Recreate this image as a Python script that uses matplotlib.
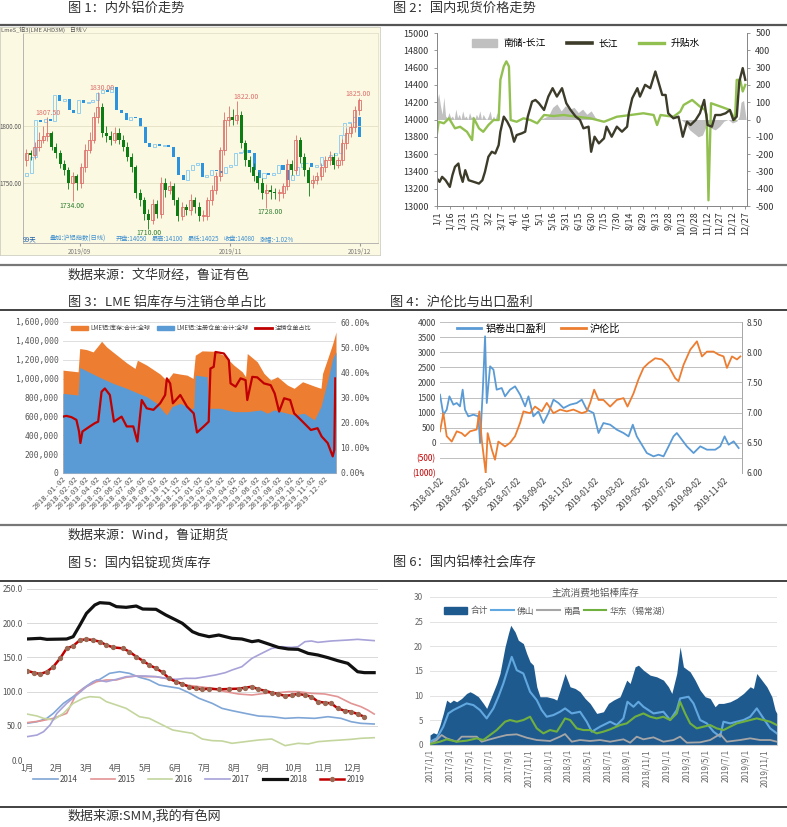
import matplotlib
matplotlib.use("Agg")
import matplotlib.pyplot as plt
from matplotlib.lines import Line2D
from matplotlib.patches import Patch
import numpy as np

plt.rcParams['font.family'] = ['Noto Sans CJK SC', 'DejaVu Sans']
plt.rcParams['axes.unicode_minus'] = False

W, H = 787, 827

# ---- 图1: LME 3M daily candles + SHFE index overlay (last ~80 sessions of 2019)
lme_open0 = 1770
lme_close = [1776, 1775, 1782, 1788, 1791, 1794, 1782, 1776, 1767, 1761,
             1750, 1756, 1750, 1764, 1779, 1788, 1808, 1817, 1794, 1791,
             1788, 1794, 1788, 1782, 1773, 1764, 1741, 1735, 1723, 1718,
             1732, 1723, 1750, 1744, 1747, 1735, 1721, 1729, 1726, 1735,
             1729, 1721, 1721, 1735, 1744, 1756, 1779, 1805, 1808, 1805,
             1810, 1785, 1770, 1764, 1756, 1750, 1741, 1744, 1742, 1741,
             1741, 1747, 1767, 1761, 1788, 1773, 1761, 1750, 1753, 1756,
             1764, 1770, 1773, 1766, 1770, 1785, 1794, 1799, 1814, 1823]
lme_high = [1780, 1779, 1786, 1795, 1800, 1807.5, 1796, 1785, 1779, 1770,
            1764, 1760, 1758, 1768, 1784, 1795, 1812, 1830, 1820, 1800,
            1796, 1799, 1798, 1792, 1786, 1776, 1766, 1745, 1738, 1727,
            1736, 1735, 1755, 1754, 1752, 1750, 1738, 1733, 1732, 1740,
            1738, 1733, 1726, 1738, 1748, 1760, 1782, 1812, 1818, 1815,
            1822, 1813, 1788, 1774, 1768, 1760, 1754, 1749, 1748, 1746,
            1745, 1750, 1771, 1770, 1792, 1790, 1776, 1764, 1757, 1760,
            1768, 1774, 1778, 1776, 1773, 1789, 1798, 1803, 1818, 1825]
lme_low = [1765, 1770, 1771, 1778, 1785, 1787, 1779, 1772, 1763, 1757,
           1745, 1734, 1744, 1746, 1760, 1776, 1785, 1803, 1790, 1786,
           1783, 1785, 1784, 1778, 1769, 1760, 1737, 1730, 1718, 1710,
           1714, 1719, 1719, 1738, 1740, 1731, 1717, 1718, 1722, 1722,
           1724, 1717, 1717, 1718, 1731, 1740, 1752, 1775, 1800, 1801,
           1802, 1781, 1765, 1760, 1752, 1745, 1736, 1728, 1736, 1736,
           1734, 1737, 1744, 1757, 1758, 1768, 1756, 1739, 1746, 1749,
           1753, 1760, 1766, 1762, 1763, 1766, 1780, 1790, 1795, 1810]
shfe_open0 = 13790
shfe_close = [13810, 13933, 14203, 14190, 14212, 14198, 14387, 14345, 14360, 14277,
              14252, 14351, 14326, 14338, 14351, 14400, 14424, 14412, 14449, 14277,
              14252, 14203, 14228, 14215, 14154, 14031, 14007, 14025, 14012, 14020,
              14007, 13933, 13798, 13761, 13835, 13872, 13884, 13786, 13798, 13835,
              13828, 13810, 13859, 13872, 13958, 13970, 13982, 13958, 13835, 13773,
              13810, 13798, 13815, 13872, 13835, 13761, 13798, 13859, 13884, 13890,
              13859, 13872, 13933, 13928, 13945, 13958, 14093, 14179, 14191, 14228,
              14080]
f1_month_pos = [12.7, 48.4, 79.2]
f1_month_lbl = ['2019/09', '2019/11', '2019/12']
f1_marks = [(5.1, 1811.4, '1807.50', 'up'), (18.0, 1833.3, '1830.00', 'up'),
            (52.2, 1825.4, '1822.00', 'up'), (78.8, 1828.0, '1825.00', 'up'),
            (10.8, 1729.8, '1734.00', 'dn'), (57.9, 1724.6, '1728.00', 'dn'),
            (29.0, 1706.5, '1710.00', 'dn')]

# ---- 图2: 长江现货 (left), 升贴水 and 南储-长江 (right); x = day of 2019
cj_day = [0, 3, 6, 10, 15, 18, 21, 25, 27, 30, 33, 37, 43, 49, 53, 56, 60, 64, 68, 72,
          74, 78, 82, 86, 90, 93, 99, 103, 106, 111, 115, 119, 125, 130, 135, 140, 146, 151, 156, 162,
          167, 171, 177, 180, 184, 189, 195, 198, 204, 210, 216, 222, 224, 228, 234, 237, 243, 249, 255, 259,
          263, 267, 270, 276, 282, 287, 292, 296, 302, 307, 312, 316, 321, 325, 331, 337, 342, 346, 350, 353,
          357, 360]
cj_val = [13317, 13279, 13337, 13298, 13221, 13356, 13453, 13491, 13375, 13279,
          13414, 13298, 13279, 13259, 13298, 13395, 13569, 13627, 13607, 13704,
          13859, 14033, 13975, 13898, 13743, 13820, 13840, 13859, 14033, 14207,
          14226, 14188, 14110, 14265, 14362, 14265, 14362, 14188, 14110, 14033,
          13994, 13898, 13917, 13627, 13801, 13724, 13782, 13917, 13801, 13917,
          13859, 13917, 14072, 14246, 14362, 14265, 14401, 14362, 14555, 14420,
          14284, 14284, 14072, 14014, 14033, 13801, 13975, 13936, 13994, 14072,
          14226, 13936, 13917, 14052, 14052, 14072, 14110, 13994, 14033, 14439,
          14594, 14459]
sb_day = [0, 2, 8, 14, 21, 27, 35, 41, 43, 49, 54, 60, 66, 72, 74, 78, 81, 84, 86, 93,
          101, 109, 117, 125, 136, 148, 163, 179, 195, 210, 226, 241, 253, 257, 261, 276, 284, 288, 298, 307,
          313, 315, 317, 320, 331, 342, 348, 350, 354, 357, 360]
sb_val = [-80, -13, -22, 7, -51, -42, -71, -119, 7, -51, -71, -32, -3, -3, 229, 307, 336, 307, -3, -13,
          7, -3, -22, 26, 20, 26, 16, 7, -13, 16, 26, 36, 26, -32, 26, 16, 45, 84, 113, 75,
          55, 26, -467, 94, 75, 55, -3, 229, 229, 162, 200]
nc_day = [0, 2, 4, 6, 8, 10, 12, 14, 16, 18, 20, 22, 24, 26, 28, 30, 32, 34, 36, 38,
          40, 42, 44, 46, 48, 50, 52, 54, 56, 58, 60, 62, 64, 66, 68, 70, 72,
          120, 125, 130, 135, 140, 145, 150, 155, 160, 165, 170, 175, 180, 185, 190,
          285, 290, 295, 300, 305, 310, 315, 320, 325, 330, 335, 340, 345, 350,
          353, 355, 358, 361]
nc_val = [110, 150, 80, 30, 130, 20, 10, 40, 10, 20, 0, 60, 10, 30, 0, 50, 10, 20, 0, 40,
          10, 20, 0, 30, 10, 50, 0, 30, 10, 0, 20, 50, 0, 20, 0, 40, 0,
          0, 10, 20, 70, 90, 50, 80, 60, 70, 40, 60, 30, 50, 10, 0,
          0, -20, -60, -80, -100, -90, -30, -50, -60, -40, -10, 0, -20, -10,
          20, 100, 110, 0]
f2_ticks = ['1/1', '1/16', '1/31', '2/15', '3/2', '3/17', '4/1', '4/16', '5/1', '5/16',
            '5/31', '6/15', '6/30', '7/15', '7/30', '8/14', '8/29', '9/13', '9/28', '10/13',
            '10/28', '11/12', '11/27', '12/12', '12/27']

# ---- 图3: LME stocks (t) and cancelled-warrant share (%); x = months since 2018-01-02
inv_m = [0, 1.33, 1.47, 2.06, 2.65, 3.24, 3.39, 3.83, 4.56, 5.6,
         6.33, 6.54, 7.36, 8.54, 9.13, 9.66, 10.3, 10.9, 11.43, 11.63,
         12.22, 13.25, 14.14, 15.02, 15.76, 16.05, 16.2, 17.08, 17.67, 18.26,
         18.85, 19.73, 20.32, 21.06, 22.09, 22.68, 22.82, 23.27, 23.71, 24.0]
inv_t = [1090000, 1072000, 1319000, 1308000, 1283000, 1371000, 1396000, 1336000, 1266000, 1167000,
         1108000, 1195000, 1143000, 1048000, 977000, 1062000, 1048000, 1037000, 1002000, 1248000,
         1294000, 1290000, 1248000, 1143000, 1072000, 1020000, 1266000, 1178000, 1055000, 985000,
         1020000, 932000, 897000, 967000, 921000, 897000, 1055000, 1213000, 1371000, 1494000]
war_m = [0, 1.33, 1.47, 2.65, 3.24, 4.42, 5.6, 6.63, 7.36, 8.25,
         8.84, 9.13, 9.57, 10.3, 11.19, 11.49, 11.63, 12.66, 12.81, 13.84,
         15.02, 16.2, 17.38, 17.96, 18.55, 19.73, 20.32, 21.2, 22.09, 22.68,
         23.27, 23.71, 24.0]
war_t = [844000, 826000, 1118000, 1048000, 1013000, 949000, 897000, 844000, 809000, 738000,
         650000, 615000, 703000, 738000, 686000, 686000, 1037000, 1020000, 686000, 686000,
         650000, 650000, 668000, 633000, 668000, 633000, 615000, 633000, 563000, 703000,
         984000, 1213000, 1283000]
cxl_m = [0, 0.29, 0.74, 1.18, 1.41, 1.53, 1.71, 2.36, 2.80, 3.09,
         3.39, 3.68, 4.12, 4.48, 5.15, 5.60, 6.18, 6.54, 6.92, 7.36,
         7.95, 8.54, 8.98, 9.13, 9.42, 9.66, 10.31, 10.90, 11.49, 11.78,
         12.37, 12.81, 12.96, 13.25, 13.40, 14.14, 14.58, 14.73, 15.17, 15.61,
         16.05, 16.20, 16.64, 17.08, 17.67, 18.26, 18.61, 19.00, 19.44, 19.97,
         20.32, 20.91, 21.79, 22.38, 22.74, 23.27, 23.71, 23.85, 23.94]
cxl_pct = [22.4, 22.7, 22.2, 21.1, 16.5, 11.9, 16.5, 18.5, 19.8, 20.4,
           32.3, 33.6, 31.0, 20.4, 22.4, 18.5, 18.5, 12.5, 29.0, 25.7,
           25.1, 27.7, 31.0, 37.6, 35.6, 27.7, 31.0, 26.4, 23.7, 16.1,
           18.5, 20.4, 41.5, 42.2, 48.1, 47.5, 44.8, 35.6, 34.3, 37.6,
           36.9, 29.0, 38.2, 38.0, 35.6, 34.9, 31.6, 24.4, 29.7, 29.0,
           23.7, 21.1, 17.1, 17.8, 14.5, 11.9, 6.6, 9.2, 37.6]
f3_ticks = ['%d-%02d-02' % (2018 + i // 12, i % 12 + 1) for i in range(24)]

# ---- 图4: export margin (left) and SHFE/LME ratio (right); x = months since 2018-01-02
exp_m = [0, 0.26, 0.52, 0.73, 1.04, 1.30, 1.55, 1.76, 1.94, 2.20,
         2.59, 2.98, 3.11, 3.32, 3.50, 3.63, 3.89, 4.15, 4.40, 4.79,
         5.05, 5.44, 5.83, 6.22, 6.61, 6.87, 7.25, 7.64, 8.03, 8.42,
         8.81, 9.20, 9.59, 10.10, 10.62, 11.01, 11.40, 11.92, 12.31, 12.69,
         13.21, 13.73, 14.25, 14.64, 14.97, 15.28, 15.67, 16.06, 16.58, 16.97,
         17.36, 17.75, 18.13, 18.39, 18.78, 19.17, 19.69, 20.21, 20.73, 21.37,
         21.76, 22.10, 22.41, 22.80, 23.19]
exp_v = [1593, 931, 1096, 1538, 1262, 1317, 1207, 1759, 1096, 876,
         931, 876, -8, 1704, 3525, 1317, 2532, 2421, 1759, 1814,
         1538, 1759, 1869, 1593, 1207, 1538, 876, 1041, 655, 986,
         1428, 1317, 1152, 1262, 1317, 1428, 1096, 986, 324, 655,
         600, 434, 324, 213, 600, 213, -63, -339, -449, -394,
         -449, -118, 213, 324, 103, -118, -339, -118, -228, -228,
         -118, 213, -63, 48, -173]
ratio_m = [0, 0.26, 0.52, 0.91, 1.30, 1.68, 1.94, 2.33, 2.85, 3.06,
           3.24, 3.55, 3.70, 4.02, 4.27, 4.53, 5.05, 5.44, 5.83, 6.22,
           6.48, 6.99, 7.38, 7.90, 8.29, 8.81, 9.33, 9.84, 10.36, 11.01,
           11.40, 11.66, 11.97, 12.31, 12.69, 13.21, 13.73, 14.25, 14.56, 15.03,
           15.41, 15.80, 16.19, 16.71, 17.23, 17.75, 18.26, 18.52, 18.91, 19.43,
           19.95, 20.34, 20.73, 21.24, 21.63, 22.02, 22.28, 22.67, 23.06, 23.32]
ratio_v = [6.69, 6.99, 6.61, 6.52, 6.69, 6.66, 6.61, 6.69, 6.72, 7.02,
           6.55, 6.00, 6.66, 6.39, 6.22, 6.52, 6.44, 6.50, 6.61, 6.83,
           7.02, 6.99, 7.10, 7.02, 7.16, 6.99, 7.05, 7.02, 7.05, 6.99,
           7.02, 7.16, 7.38, 7.21, 7.21, 7.10, 7.21, 7.24, 7.10, 7.32,
           7.55, 7.74, 7.82, 7.90, 7.88, 7.77, 7.57, 7.52, 7.79, 8.04,
           8.18, 7.93, 8.01, 8.01, 7.96, 7.93, 7.74, 7.93, 7.88, 7.93]
f4_ticks = ['2018-01-02', '2018-03-02', '2018-05-02', '2018-07-02', '2018-09-02', '2018-11-02',
            '2019-01-02', '2019-03-02', '2019-05-02', '2019-07-02', '2019-09-02', '2019-11-02']

# ---- 图5: domestic ingot stocks (10k t) by year; x = months since Jan 1
y14_m = [0, 0.34, 0.67, 0.89, 1.23, 1.56, 1.90, 2.23, 2.46, 2.79, 3.13, 3.46, 3.80, 4.13, 4.47, 4.80,
         5.14, 5.47, 5.81, 6.26, 6.59, 6.93, 7.37, 7.82, 8.27, 8.72, 9.16, 9.72, 10.17, 10.61, 10.95, 11.28, 11.73]
y14_v = [53.6, 56.0, 60.9, 68.2, 82.8, 92.6, 104.8, 114.5, 117.9, 126.7, 129.1, 126.7, 120.9, 117.0, 109.6, 107.2,
         104.8, 98.4, 90.2, 82.8, 75.5, 72.1, 68.2, 64.3, 63.3, 60.9, 61.9, 60.9, 63.3, 60.9, 56.0, 53.6, 52.6]
y15_m = [0, 0.45, 0.89, 1.34, 1.68, 2.01, 2.35, 2.68, 3.02, 3.35, 3.69, 4.02, 4.36, 4.69, 5.03, 5.36,
         5.81, 6.26, 6.70, 7.15, 7.60, 8.04, 8.49, 8.83, 9.16, 9.61, 10.06, 10.50, 10.95, 11.28, 11.51, 11.73]
y15_v = [54.6, 57.0, 60.9, 68.2, 97.5, 107.2, 114.5, 117.0, 117.0, 120.9, 122.8, 121.8, 121.8, 119.4, 114.5, 109.6,
         107.2, 104.8, 99.9, 96.5, 95.0, 97.5, 98.4, 99.9, 99.9, 97.5, 96.5, 92.6, 82.8, 78.0, 73.1, 67.2]
y16_m = [0, 0.34, 0.56, 0.89, 1.23, 1.56, 1.90, 2.12, 2.46, 2.68, 3.02, 3.35, 3.80, 4.13, 4.58, 4.92, 5.25,
         5.59, 5.92, 6.26, 6.59, 6.93, 7.37, 7.82, 8.27, 8.72, 9.16, 9.50, 9.83, 10.28, 10.61, 10.95, 11.28, 11.73]
y16_v = [67.2, 64.3, 60.9, 58.5, 68.2, 82.8, 90.2, 92.6, 91.6, 85.3, 80.4, 75.5, 63.3, 60.9, 51.2, 43.9, 41.4,
         39.0, 30.7, 28.3, 27.8, 24.4, 26.8, 29.2, 30.7, 21.0, 24.4, 23.4, 26.8, 28.3, 29.2, 30.2, 31.7, 32.6]
y17_m = [0, 0.34, 0.56, 0.78, 1.01, 1.34, 1.68, 2.01, 2.35, 2.68, 3.02, 3.35, 3.69, 4.02, 4.36, 4.69, 5.03, 5.36,
         5.70, 6.03, 6.37, 6.70, 6.93, 7.26, 7.60, 7.93, 8.27, 8.60, 8.94, 9.16, 9.39, 9.61, 9.83, 10.28, 10.84, 11.17, 11.73]
y17_v = [34.1, 36.5, 41.4, 51.2, 68.2, 82.8, 95.0, 107.2, 117.0, 114.5, 117.9, 121.8, 122.8, 122.8, 121.8, 119.4, 117.9, 119.4,
         119.4, 121.8, 124.3, 127.7, 131.6, 136.4, 148.6, 155.9, 163.2, 165.7, 164.7, 165.7, 173.0, 174.0, 172.0, 174.0, 175.4, 176.4, 174.5]
y18_m = [0, 0.45, 0.67, 1.34, 1.56, 1.79, 2.01, 2.29, 2.46, 2.79, 3.02, 3.35, 3.69, 3.91, 4.36, 4.69, 5.03, 5.25, 5.59,
         5.81, 6.15, 6.48, 6.93, 7.26, 7.60, 7.82, 8.16, 8.49, 8.83, 9.16, 9.50, 9.83, 10.17, 10.50, 10.84, 11.17, 11.40, 11.73]
y18_v = [176.9, 177.9, 176.4, 176.9, 180.3, 197.4, 214.4, 226.6, 230.0, 229.0, 224.2, 223.2, 225.1, 220.7, 220.3, 212.0, 204.7, 199.8, 187.6,
         183.7, 180.3, 182.7, 177.9, 176.9, 173.0, 174.5, 169.6, 164.7, 162.3, 161.8, 155.9, 153.5, 149.6, 145.2, 141.3, 129.1, 127.7, 127.7]
y19_m = [0, 0.22, 0.45, 0.67, 0.89, 1.12, 1.34, 1.56, 1.79, 2.01, 2.23, 2.46, 2.68, 2.91, 3.24, 3.46, 3.69, 3.91, 4.13, 4.36,
         4.58, 4.80, 5.03, 5.25, 5.47, 5.70, 5.92, 6.15, 6.48, 6.82, 7.15, 7.37, 7.60, 7.82, 8.04, 8.27, 8.49, 8.72, 8.94, 9.16,
         9.39, 9.61, 9.83, 10.06, 10.28, 10.50, 10.73, 10.95, 11.17, 11.40]
y19_v = [130.6, 127.7, 125.7, 129.1, 136.4, 148.6, 163.2, 166.7, 175.4, 176.4, 175.4, 173.0, 168.1, 164.7, 163.2, 158.4, 151.1, 145.2, 138.9, 134.0,
         128.2, 119.4, 114.5, 111.1, 107.2, 104.8, 103.3, 104.3, 103.3, 103.8, 104.3, 105.7, 107.2, 103.3, 101.4, 98.4, 96.5, 93.6, 95.0, 96.5,
         95.0, 92.6, 85.3, 83.8, 82.8, 75.5, 72.1, 70.7, 67.2, 63.3]
f5_months = ['1月', '2月', '3月', '4月', '5月', '6月', '7月', '8月', '9月', '10月', '11月', '12月']

# ---- 图6: billet stocks (10k t); x = months since 2017-01-01
tot_m = [0, 0.34, 0.68, 1.01, 1.35, 1.69, 2.03, 2.37, 2.71, 3.21, 3.72, 4.06, 4.40, 4.91, 5.41, 5.75, 6.09, 6.77, 7.10, 7.61,
         7.95, 8.19, 8.63, 8.96, 9.47, 9.81, 10.15, 10.49, 10.83, 11.16, 11.84, 12.52, 12.86, 13.19, 13.70, 14.21, 14.72, 15.22, 15.73, 16.24,
         16.91, 17.59, 18.10, 18.61, 19.28, 19.96, 20.30, 20.81, 21.14, 21.65, 22.33, 23.00, 23.68, 24.19, 24.53, 25.03, 25.37, 25.71, 26.39, 26.89,
         27.40, 27.91, 28.42, 28.92, 29.26, 29.77, 30.45, 31.12, 31.80, 32.48, 32.81, 33.15, 33.66, 34.17, 34.68, 35.01, 35.18]
tot_v = [2.02, 2.49, 2.22, 4.04, 6.40, 9.10, 8.56, 9.10, 8.76, 9.44, 10.45, 10.79, 10.45, 9.78, 8.43, 7.42, 9.10, 12.47, 14.49, 19.89,
         22.58, 24.27, 22.92, 21.24, 20.56, 18.54, 16.85, 16.18, 11.80, 9.78, 9.78, 9.44, 9.10, 11.12, 14.49, 11.80, 11.46, 10.79, 9.44, 8.43,
         6.40, 6.74, 8.43, 9.10, 9.78, 13.15, 12.47, 15.84, 16.18, 15.17, 14.16, 13.82, 13.15, 11.80, 10.45, 14.49, 19.89, 15.84, 14.83, 13.15,
         11.12, 9.78, 9.44, 7.75, 8.43, 8.43, 8.76, 9.44, 10.45, 11.80, 11.46, 14.49, 13.15, 11.80, 9.78, 7.08, 6.40]
fs_m = [0, 0.68, 1.35, 1.86, 2.37, 3.04, 3.72, 4.40, 5.07, 5.75, 6.43, 6.94, 7.44, 8.29, 8.80, 9.47, 10.15, 10.83, 11.33, 11.84,
        12.52, 13.19, 13.70, 14.38, 15.22, 15.90, 16.41, 17.25, 18.27, 18.94, 19.62, 20.03, 20.64, 21.14, 21.65, 22.67, 23.68, 24.36, 25.03, 25.37,
        26.22, 26.73, 27.40, 28.08, 28.76, 29.43, 29.77, 30.45, 31.12, 31.80, 32.48, 33.15, 33.83, 34.51, 35.18]
fs_v = [0.67, 1.35, 3.71, 6.40, 7.08, 7.75, 8.43, 8.09, 7.08, 5.39, 7.42, 9.78, 12.47, 17.87, 15.17, 14.49, 10.79, 9.10, 7.08, 5.73,
        6.07, 6.74, 7.42, 6.40, 6.74, 4.72, 2.70, 3.71, 4.72, 4.04, 5.39, 8.76, 7.75, 8.76, 7.75, 6.40, 6.74, 5.06, 7.08, 9.44,
        9.78, 8.43, 5.06, 4.38, 2.70, 1.69, 4.72, 4.38, 4.72, 5.06, 5.73, 7.42, 5.39, 3.37, 2.36]
nch_m = [0, 0.68, 1.18, 1.69, 2.71, 3.21, 4.74, 5.24, 6.09, 7.10, 7.78, 8.80, 9.81, 10.83, 12.18, 13.19, 13.70, 14.38, 15.22, 16.24,
         17.25, 18.27, 19.62, 20.30, 20.97, 21.65, 22.67, 23.68, 24.70, 25.37, 26.05, 27.40, 28.42, 29.43, 30.11, 31.46, 32.48, 33.49, 34.51, 35.18]
nch_v = [0.20, 1.01, 2.02, 1.35, 0.67, 1.69, 1.69, 0.67, 1.15, 1.69, 2.02, 2.16, 1.48, 1.01, 0.81, 1.69, 2.22, 0.67, 1.01, 0.81,
         1.01, 0.67, 1.15, 0.47, 1.69, 1.15, 1.55, 0.67, 1.01, 1.69, 0.47, 0.54, 1.01, 2.22, 0.67, 1.01, 1.35, 1.01, 1.01, 0.67]
hd_m = [0, 1.01, 1.69, 2.71, 3.72, 4.74, 5.41, 6.09, 6.77, 7.61, 8.12, 8.80, 9.47, 10.15, 10.83, 11.50, 12.18, 12.86, 13.19, 13.70,
        14.21, 14.88, 15.56, 16.24, 16.91, 17.59, 18.27, 19.28, 19.96, 20.81, 21.65, 22.33, 23.00, 23.68, 24.36, 25.03, 25.37, 25.88, 26.39, 27.06,
        27.74, 28.42, 29.09, 29.77, 30.45, 31.12, 31.80, 32.48, 33.15, 33.83, 34.51, 35.18]
hd_v = [0.20, 0.67, 1.15, 0.67, 0.88, 1.35, 1.01, 2.02, 3.03, 4.72, 5.06, 4.72, 5.06, 5.73, 3.37, 2.36, 3.03, 2.70, 3.71, 5.39,
        5.06, 3.37, 3.03, 3.03, 2.36, 2.70, 3.17, 4.04, 4.38, 5.73, 6.40, 5.73, 5.39, 5.73, 5.06, 6.40, 8.76, 6.40, 4.38, 3.37,
        3.71, 4.04, 3.37, 3.03, 3.71, 4.38, 4.72, 5.06, 5.39, 5.06, 4.72, 4.04]
f6_ticks = ['%d/%d/1' % (2017 + i // 6, (2 * i) % 12 + 1) for i in range(18)]

TEXT = '#333333'
CANDLE_BG = '#fcf9e3'


def rect(x0, y0, x1, y1):
    """pixel box (top-left origin) -> figure fraction rect"""
    return [x0 / W, 1 - y1 / H, (x1 - x0) / W, (y1 - y0) / H]


def put(fig, x, y, s, **kw):
    kw.setdefault('va', 'center')
    kw.setdefault('color', TEXT)
    fig.text(x / W, 1 - y / H, s, **kw)


def hide_spines(ax):
    for s in ax.spines.values():
        s.set_visible(False)


def draw_fig1(fig):
    bg = fig.add_axes(rect(0, 27, 380, 255))
    bg.set_facecolor(CANDLE_BG)
    bg.set_xticks([])
    bg.set_yticks([])
    for s in bg.spines.values():
        s.set_color('#cfcfc0')
        s.set_linewidth(0.6)
    put(fig, 1, 29.5, 'LmeS_铝3(LME AHD3M)    日线∨', fontsize=4.2, color='#555')

    ax = fig.add_axes(rect(23, 33, 378, 243))
    ax.patch.set_visible(False)
    axb = ax.twinx()
    axb.set_axis_off()
    # LME candles and price labels sit above the SHFE overlay
    ax.set_zorder(axb.get_zorder() + 1)

    up_red, dn_green = '#dd6f6a', '#0b7d12'
    blue_up, blue_dn = '#86c8ee', '#2d93dc'
    w = 0.72

    c = np.array(lme_close, float)
    o = np.concatenate([[lme_open0], c[:-1]])
    hi = np.array(lme_high, float)
    lo = np.array(lme_low, float)
    x = np.arange(len(c))
    up = c >= o
    ht = np.maximum(np.abs(c - o), 0.8)
    ax.vlines(x[up], lo[up], hi[up], color=up_red, lw=0.6, zorder=2)
    ax.vlines(x[~up], lo[~up], hi[~up], color=dn_green, lw=0.6, zorder=2)
    ax.bar(x[up], ht[up], bottom=o[up], width=w, facecolor='none',
           edgecolor=up_red, lw=0.6, zorder=3)
    ax.bar(x[~up], ht[~up], bottom=c[~up], width=w, color=dn_green, lw=0, zorder=3)

    sc = np.array(shfe_close, float)
    so = np.concatenate([[shfe_open0], sc[:-1]])
    xb = np.linspace(0, len(c) - 1, len(sc))
    bu = sc >= so
    hb = np.maximum(np.abs(sc - so), 6)
    axb.bar(xb[bu], hb[bu], bottom=so[bu], width=w, facecolor=CANDLE_BG,
            edgecolor=blue_up, lw=0.6)
    axb.bar(xb[~bu], hb[~bu], bottom=sc[~bu], width=w, color=blue_dn, lw=0)
    axb.set_ylim(13297, 14844)

    ax.set_ylim(1697.4, 1881.6)
    ax.set_xlim(-0.8, 83.5)
    for v in (1750, 1800):
        ax.axhline(v, color='#e3dfc4', lw=0.6, zorder=0)
    ax.set_yticks([1750, 1800])
    ax.set_yticklabels(['1750.00', '1800.00'])
    ax.tick_params(axis='y', length=0, pad=1, labelsize=4.5, labelcolor='#555')
    ax.set_xticks(f1_month_pos)
    ax.set_xticklabels(f1_month_lbl)
    ax.tick_params(axis='x', length=2, pad=1.5, labelsize=4.5, labelcolor='#777',
                   color='#999')
    for k in ('left', 'bottom'):
        ax.spines[k].set_color('#aaaaaa')
        ax.spines[k].set_linewidth(0.6)
    for k in ('top', 'right'):
        ax.spines[k].set_color('#e2dfcc')
        ax.spines[k].set_linewidth(0.6)

    for xi, yi, s, kind in f1_marks:
        ax.text(xi, yi, s, ha='center', va='center', fontsize=5,
                color=up_red if kind == 'up' else '#2d7d2d', zorder=5)

    put(fig, 23, 239, '99天', fontsize=4.6, color='#2060a8')
    put(fig, 50, 239, '叠加:沪铝指数(日线)', fontsize=4.5, color='#3d8fd0')
    for xp, s in [(116, '开盘:14050'), (152, '最高:14100'), (188, '最低:14025'),
                  (224, '收盘:14080'), (260, '涨幅:-1.02%')]:
        put(fig, xp, 239, s, fontsize=4.5, color='#3d8fd0')


def draw_fig2(fig):
    ax = fig.add_axes(rect(437, 33, 747, 206))
    axr = ax.twinx()
    axr.fill_between(nc_day, nc_val, 0, color='#c0c0c0', lw=0)
    axr.plot(sb_day, sb_val, color='#92c050', lw=1.7)
    ax.plot(cj_day, cj_val, color='#3d3b29', lw=1.7)
    ax.set_zorder(axr.get_zorder() + 1)
    ax.patch.set_visible(False)

    ax.set_xlim(0, 362)
    ax.set_ylim(13000, 15000)
    axr.set_ylim(-500, 500)
    ax.set_yticks(range(13000, 15001, 200))
    axr.set_yticks(range(-500, 501, 100))
    ax.set_xticks([15 * i for i in range(len(f2_ticks))])
    ax.set_xticklabels(f2_ticks, rotation=90)
    for a in (ax, axr):
        a.tick_params(labelsize=6.5, labelcolor=TEXT, length=2.5, color='#888', width=0.6)
        a.spines['top'].set_visible(False)
        for k in ('left', 'right', 'bottom'):
            a.spines[k].set_color('#888')
            a.spines[k].set_linewidth(0.7)
    ax.tick_params(axis='x', pad=1.5)

    handles = [Patch(color='#c0c0c0'),
               Line2D([], [], color='#3d3b29', lw=2.6),
               Line2D([], [], color='#92c050', lw=2.4)]
    ax.legend(handles, ['南储-长江', '长江', '升贴水'], loc='center',
              bbox_to_anchor=(0.48, 0.94), ncol=3, frameon=False, fontsize=7,
              handlelength=2.6, handleheight=0.9, columnspacing=2.2, handletextpad=0.6)


def draw_fig3(fig):
    ax = fig.add_axes(rect(63, 322, 336, 473))
    ax.fill_between(inv_m, inv_t, color='#ed7d31', lw=0, zorder=2)
    ax.fill_between(war_m, war_t, color='#5b9bd5', lw=0, zorder=3)
    axr = ax.twinx()
    axr.plot(cxl_m, np.array(cxl_pct) / 100, color='#c00000', lw=1.6)

    ax.set_xlim(0, 24)
    ax.set_ylim(0, 1600000)
    axr.set_ylim(0, 0.6)
    yt = list(range(0, 1600001, 200000))
    ax.set_yticks(yt)
    ax.set_yticklabels(['{:,}'.format(v) for v in yt], family='DejaVu Sans Mono')
    pt = [i / 10 for i in range(7)]
    axr.set_yticks(pt)
    axr.set_yticklabels(['%.2f%%' % (v * 100) for v in pt], family='DejaVu Sans Mono')
    ax.yaxis.grid(True, color='#d9d9d9', lw=0.6, zorder=0)
    ax.set_axisbelow(True)
    ax.set_xticks(range(24))
    ax.set_xticklabels(f3_ticks, rotation=45, ha='right', rotation_mode='anchor',
                       family='DejaVu Sans Mono')
    for a in (ax, axr):
        hide_spines(a)
        a.tick_params(length=0, labelsize=5.8, labelcolor='#555', pad=3)
    ax.tick_params(axis='x', labelsize=5.2, pad=2)
    ax.spines['bottom'].set_visible(True)
    ax.spines['bottom'].set_color('#bfbfbf')

    handles = [Patch(color='#ed7d31'), Patch(color='#5b9bd5'),
               Line2D([], [], color='#c00000', lw=2)]
    fig.legend(handles, ['LME铝:库存:合计:全球', 'LME铝:注册仓单:合计:全球', '注销仓单占比'],
               loc='center left', bbox_to_anchor=(68 / W, 1 - 328 / H), ncol=3,
               frameon=False, fontsize=4.4, handlelength=2.8, handleheight=0.8,
               columnspacing=1.0, handletextpad=0.4, borderpad=0, labelcolor='#444')


def draw_fig4(fig):
    ax = fig.add_axes(rect(440, 322, 742, 473))
    ax.plot(exp_m, exp_v, color='#5b9bd5', lw=1.3, zorder=3)
    axr = ax.twinx()
    axr.plot(ratio_m, ratio_v, color='#ed7d31', lw=1.3)

    ax.set_xlim(0, 23.45)
    ax.set_ylim(-1000, 4000)
    axr.set_ylim(6.0, 8.5)
    yt = list(range(-1000, 4001, 500))
    ax.set_yticks(yt)
    ax.set_yticklabels([str(v) if v >= 0 else '(%d)' % -v for v in yt])
    axr.set_yticks([6.0 + 0.5 * i for i in range(6)])
    axr.set_yticklabels(['%.2f' % (6.0 + 0.5 * i) for i in range(6)])
    ax.yaxis.grid(True, color='#bfbfbf', lw=0.7)
    ax.set_axisbelow(True)
    ax.set_xticks(range(0, 23, 2))
    ax.set_xticklabels(f4_ticks, rotation=45, ha='right', rotation_mode='anchor')
    for a in (ax, axr):
        hide_spines(a)
        a.tick_params(length=0, labelsize=6, labelcolor='#404040', pad=3)
    for lab, v in zip(ax.get_yticklabels(), yt):
        lab.set_color('#c00000' if v < 0 else '#404040')
    ax.tick_params(axis='x', pad=2)
    axr.spines['right'].set_visible(True)
    axr.spines['right'].set_color('#a6a6a6')
    axr.spines['right'].set_linewidth(0.7)

    handles = [Line2D([], [], color='#5b9bd5', lw=2), Line2D([], [], color='#ed7d31', lw=2)]
    ax.legend(handles, ['铝卷出口盈利', '沪伦比'], loc='center left',
              bbox_to_anchor=(0.04, 0.955), ncol=2, frameon=False, fontsize=7.3,
              handlelength=2.4, columnspacing=1.5, handletextpad=0.4, borderpad=0)


def draw_fig5(fig):
    ax = fig.add_axes(rect(27, 589, 378, 760))
    series = [(y14_m, y14_v, '2014', '#7fa6d6', 1.2),
              (y15_m, y15_v, '2015', '#e39494', 1.2),
              (y16_m, y16_v, '2016', '#c4d69e', 1.2),
              (y17_m, y17_v, '2017', '#a7a2d8', 1.2),
              (y18_m, y18_v, '2018', '#111111', 2.3)]
    handles = []
    for m, v, lab, col, lw in series:
        ln, = ax.plot(m, v, color=col, lw=lw)
        handles.append(ln)
    ln, = ax.plot(y19_m, y19_v, color='#c00000', lw=1.8, marker='o', ms=2.8,
                  mfc='#9a6a55', mec='#9a6a55')
    handles.append(ln)

    ax.set_xlim(0, 11.86)
    ax.set_ylim(0, 250)
    ax.set_yticks(range(0, 251, 50))
    ax.set_yticklabels(['%.1f' % v for v in range(0, 251, 50)])
    ax.set_xticks(range(12))
    ax.set_xticklabels(f5_months)
    ax.yaxis.grid(True, color='#d9d9d9', lw=0.7)
    ax.set_axisbelow(True)
    hide_spines(ax)
    ax.tick_params(length=0, labelsize=5.8, labelcolor='#555', pad=3)
    ax.tick_params(axis='x', labelsize=6.2)

    fig.legend(handles, ['2014', '2015', '2016', '2017', '2018', '2019'],
               loc='center', bbox_to_anchor=(199 / W, 1 - 779 / H), ncol=6,
               frameon=False, fontsize=5.8, handlelength=3.0, columnspacing=1.6,
               handletextpad=0.3, borderpad=0, labelcolor='#444')


def draw_fig6(fig):
    ax = fig.add_axes(rect(430, 597, 777, 745))
    ax.fill_between(tot_m, tot_v, color='#1f5a8e', lw=0, zorder=2)
    ax.plot(fs_m, fs_v, color='#62a8e0', lw=1.5, zorder=3)
    ax.plot(nch_m, nch_v, color='#a6a6a6', lw=1.3, zorder=3)
    ax.plot(hd_m, hd_v, color='#70b03e', lw=1.5, zorder=4)

    ax.set_xlim(0, 35.2)
    ax.set_ylim(0, 30)
    ax.set_yticks(range(0, 31, 5))
    ax.set_xticks(range(0, 35, 2))
    ax.set_xticklabels(f6_ticks, rotation=90)
    ax.yaxis.grid(True, color='#e3e3e3', lw=0.7)
    ax.set_axisbelow(True)
    hide_spines(ax)
    ax.spines['bottom'].set_visible(True)
    ax.spines['bottom'].set_color('#d0d0d0')
    ax.tick_params(length=0, labelsize=5.8, labelcolor='#666', pad=5)
    ax.tick_params(axis='x', pad=3)

    put(fig, 595, 593, '主流消费地铝棒库存', fontsize=7, ha='center', color='#595959')
    handles = [Patch(color='#1f5a8e'), Line2D([], [], color='#62a8e0', lw=1.5),
               Line2D([], [], color='#a6a6a6', lw=1.5), Line2D([], [], color='#70b03e', lw=1.5)]
    fig.legend(handles, ['合计', '佛山', '南昌', '华东（锡常湖）'], loc='center left',
               bbox_to_anchor=(440 / W, 1 - 611 / H), ncol=4, frameon=False,
               fontsize=6.3, handlelength=2.6, handleheight=0.7, columnspacing=0.3,
               handletextpad=0.4, borderpad=0, labelcolor='#595959')


def main():
    fig = plt.figure(figsize=(W / 100, H / 100), dpi=100)
    fig.patch.set_facecolor('white')

    for y, col, lw in [(25, '#555555', 1.6), (265, '#777777', 1.6), (310, '#333333', 1.3),
                       (525, '#777777', 1.6), (581, '#333333', 1.3), (807, '#333333', 1.3)]:
        fig.add_artist(Line2D([0, 1], [1 - y / H, 1 - y / H], color=col, lw=lw))

    title_kw = dict(fontsize=9.5)
    put(fig, 68, 8, '图 1：内外铝价走势', **title_kw)
    put(fig, 393, 8, '图 2：国内现货价格走势', **title_kw)
    put(fig, 68, 302, '图 3：LME 铝库存与注销仓单占比', **title_kw)
    put(fig, 390, 302, '图 4：沪伦比与出口盈利', **title_kw)
    put(fig, 68, 563, '图 5：国内铝锭现货库存', **title_kw)
    put(fig, 393, 563, '图 6：国内铝棒社会库存', **title_kw)
    put(fig, 68, 275, '数据来源：文华财经，鲁证有色', fontsize=9.4)
    put(fig, 68, 535, '数据来源：Wind，鲁证期货', fontsize=9.4)
    put(fig, 68, 816, '数据来源:SMM,我的有色网', fontsize=9.4)

    draw_fig1(fig)
    draw_fig2(fig)
    draw_fig3(fig)
    draw_fig4(fig)
    draw_fig5(fig)
    draw_fig6(fig)

    fig.savefig('out.png', dpi=100, facecolor='white')


if __name__ == '__main__':
    main()
